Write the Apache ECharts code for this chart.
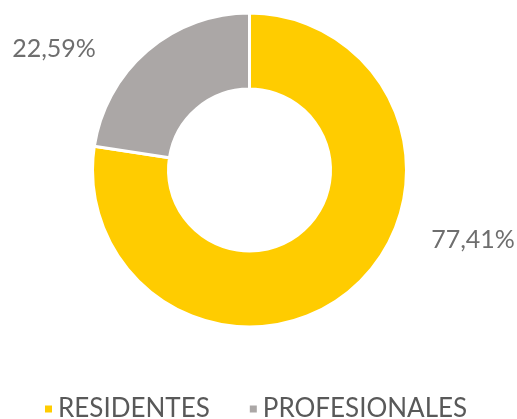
<!DOCTYPE html>
<html lang="es">
<head>
    <meta charset="UTF-8">
    <title>Residentes vs Profesionales</title>
    <script src="https://cdn.jsdelivr.net/npm/echarts@6/dist/echarts.min.js"></script>
    <style>
        html, body { margin: 0; padding: 0; background: #fff; }
        #chart { width: 517px; height: 419px; }
    </style>
</head>
<body>
    <div id="chart"></div>
<script>
    // datos
    var categorias = ['RESIDENTES', 'PROFESIONALES'];
    var valores = [77.41, 22.59];
    var colores = ['#FFCC00', '#ABA7A6'];

    // donde va cada etiqueta (centro del texto)
    var posEtiquetas = [[473, 240], [54, 49]];

    var datos = categorias.map(function (c, i) {
        return { name: c, value: valores[i], itemStyle: { color: colores[i] } };
    });

    var option = {
        animation: false,
        legend: {
            data: categorias,
            bottom: -8,
            left: 38,
            icon: 'rect',
            itemWidth: 9,
            itemHeight: 9,
            itemGap: 38,
            textStyle: {
                color: '#595959',
                fontSize: 26,
                fontFamily: 'Lato'
            }
        },
        series: [{
            type: 'pie',
            center: [249.5, 170],
            radius: [81, 157],
            startAngle: 90,
            itemStyle: {
                borderColor: '#fff',
                borderWidth: 3
            },
            label: {
                show: true,
                position: 'outside',
                formatter: function (p) {
                    return p.value.toFixed(2).replace('.', ',') + '%';
                },
                color: '#6E6E6E',
                fontSize: 25,
                fontFamily: 'Lato'
            },
            labelLine: { show: false },
            labelLayout: function (p) {
                var pos = posEtiquetas[p.dataIndex];
                return { x: pos[0], y: pos[1], align: 'center', verticalAlign: 'middle' };
            },
            data: datos
        }]
    };

    var myChart = echarts.init(document.getElementById('chart'));
    myChart.setOption(option);
</script>
</body>
</html>
